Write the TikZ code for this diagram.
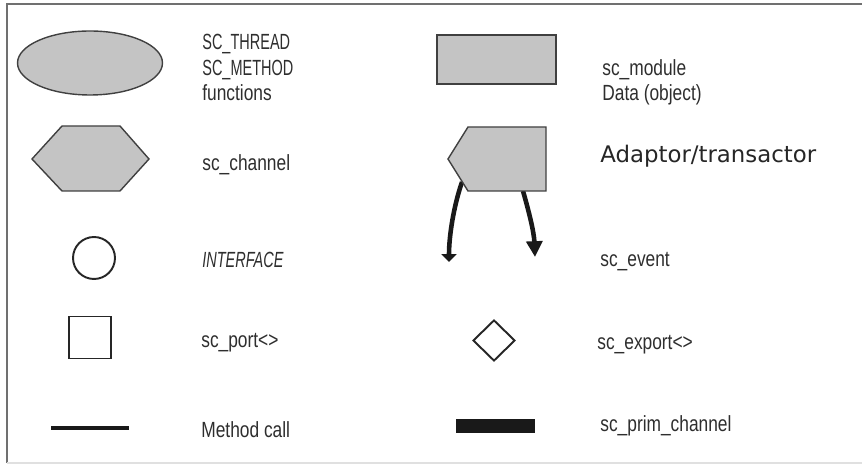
\documentclass[tikz,border=0pt]{standalone}
\usepackage{fontspec}
\setmainfont{Liberation Sans}[FakeStretch=0.79]
\newfontfamily\capsfont{Liberation Sans}[FakeStretch=0.66]
\newfontfamily\adaptfont{DejaVu Sans}
\usetikzlibrary{shapes.geometric}
\usetikzlibrary{arrows.meta}
\definecolor{shapegray}{HTML}{C4C4C4}
\definecolor{framegray}{HTML}{707070}
\definecolor{textgray}{HTML}{2E2E2E}

\begin{document}
\begin{tikzpicture}[x=0.02cm,y=-0.02cm,
		legend/.style={draw=black!75,fill=shapegray,line width=0.8pt},
		outline/.style={draw=black!85,line width=1.1pt,inner sep=0pt},
		lbl/.style={anchor=base west,inner sep=0pt,text=textgray,font=\fontsize{12.5}{14}\selectfont},
		caplbl/.style={lbl,font=\fontsize{12.5}{14}\capsfont},
		event/.style={line width=2.6pt,black!90}]
		\useasboundingbox (0,0) rectangle (862,465);
		
		% Frame
		\draw[framegray,line width=1pt] (862,4) -- (7,4) -- (7,463);
		\draw[black!12,line width=0.6pt] (7,463) -- (862,463);
		
		% Left column
		\node[legend,ellipse,minimum width=2.9cm,minimum height=1.28cm] (thread) at (90,63) {};
		\draw[legend] (62,126) -- (120,126) -- (149,159) -- (120,191) -- (62,191) -- (32,159) -- cycle;
		\node[outline,circle,minimum size=0.84cm] (iface) at (94,258) {};
		\node[outline,rectangle,minimum size=0.84cm] (port) at (90,337.5) {};
		\draw[line width=2.4pt,black!90] (51,428) -- (129,428);
		
		% Right column
		\node[legend,rectangle,minimum width=2.38cm,minimum height=0.98cm] (module) at (496.5,59.5) {};
		\coordinate (evl start) at (462,182);
		\coordinate (evl end) at (449,262);
		\coordinate (evr start) at (523,191);
		\coordinate (evr end) at (535,257);
		\draw[event,-{Triangle[length=4.5pt,width=8.5pt]}] (evl start) .. controls (454,205) and (449,235) .. (evl end);
		\draw[event,-{Triangle[length=9pt,width=9pt]}] (evr start) .. controls (529,212) and (534,232) .. (evr end);
		\draw[legend] (468,127) -- (546,127) -- (546,191) -- (468,191) -- (448,159) -- cycle;
		\node[outline,diamond,minimum width=0.84cm,minimum height=0.82cm] (export) at (494,340.5) {};
		\fill[black!90] (456,419) rectangle (535,433);
		
		% Labels
		\node[caplbl] (lthread) at (202,50) {SC\_THREAD};
		\node[caplbl] (lmethod) at (202,76) {SC\_METHOD};
		\node[lbl] (lfunc) at (202,101) {functions};
		\node[lbl] (lchannel) at (202,171) {sc\_channel};
		\node[lbl,font=\fontsize{12.5}{14}\capsfont\itshape] (liface) at (202,268) {INTERFACE};
		\node[lbl] (lport) at (201,348) {sc\_port<>};
		\node[lbl] (lcall) at (201,438) {Method call};
		\node[lbl] (lmodule) at (602,76) {sc\_module};
		\node[lbl] (ldata) at (602,101) {Data (object)};
		\node[lbl,font=\fontsize{13}{15}\adaptfont,text=black!85] (ladapt) at (600,163) {Adaptor/transactor};
		\node[lbl] (levent) at (600,267) {sc\_event};
		\node[lbl] (lexport) at (597,350) {sc\_export<>};
		\node[lbl] (lprim) at (600,432) {sc\_prim\_channel};
\end{tikzpicture}
\end{document}
